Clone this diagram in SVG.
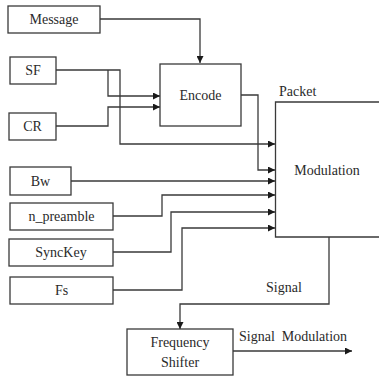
<svg xmlns="http://www.w3.org/2000/svg" width="379" height="377" viewBox="0 0 379 377" font-family="'Liberation Serif', 'Times New Roman', 'DejaVu Serif', serif">
<style>
.box{fill:#fff;stroke:#3a3a3a;stroke-width:1.3}
.ln{fill:none;stroke:#3a3a3a;stroke-width:1.3}
text{font-family:'Liberation Serif','Times New Roman','DejaVu Serif',serif;font-size:14px;fill:#2a2a2a}
.c{text-anchor:middle}
</style>
<defs>
<marker id="ah" viewBox="0 0 10 10" refX="10" refY="5" markerWidth="8" markerHeight="7" markerUnits="userSpaceOnUse" orient="auto">
<path d="M0,0 L10,5 L0,10 z" fill="#1a1a1a"/>
</marker>
</defs>
<rect width="379" height="377" fill="#fff"/>
<g id="connectors">
<path class="ln" d="M100,19 H200 V63" marker-end="url(#ah)"/>
<path class="ln" d="M56,70 H120 V144 H275" marker-end="url(#ah)"/>
<path class="ln" d="M108,70 V96 H160" marker-end="url(#ah)"/>
<path class="ln" d="M56,126 H108 V107 H160" marker-end="url(#ah)"/>
<path class="ln" d="M241,95 H258 V170 H275" marker-end="url(#ah)"/>
<path class="ln" d="M71,181 H275" marker-end="url(#ah)"/>
<path class="ln" d="M113,216 H162 V195 H275" marker-end="url(#ah)"/>
<path class="ln" d="M113,252 H171 V212 H275" marker-end="url(#ah)"/>
<path class="ln" d="M113,290 H182 V228 H275" marker-end="url(#ah)"/>
<path class="ln" d="M329,237 V304 H180 V329" marker-end="url(#ah)"/>
<path class="ln" d="M233,351 H352" marker-end="url(#ah)"/>
<text x="279" y="96">Packet</text>
<text x="266" y="292">Signal</text>
<text x="239" y="341" xml:space="preserve">Signal  Modulation</text>
</g>
<g id="message"><rect class="box" x="8" y="6" width="92" height="27"/><text class="c" x="54" y="24">Message</text></g>
<g id="sf"><rect class="box" x="10" y="57" width="46" height="27"/><text class="c" x="33" y="75">SF</text></g>
<g id="cr"><rect class="box" x="9" y="113" width="47" height="27"/><text class="c" x="32.5" y="131">CR</text></g>
<g id="encode"><rect class="box" x="160" y="64" width="81" height="62"/><text class="c" x="200.5" y="100">Encode</text></g>
<g id="modulation"><path class="box" d="M385,102 H275.5 V237 H385"/><text class="c" x="327" y="175">Modulation</text></g>
<g id="bw"><rect class="box" x="10" y="167" width="61" height="28"/><text class="c" x="40.5" y="186">Bw</text></g>
<g id="n_preamble"><rect class="box" x="10" y="203" width="103" height="27"/><text class="c" x="61.5" y="221">n_preamble</text></g>
<g id="synckey"><rect class="box" x="9" y="239" width="104" height="27"/><text class="c" x="61" y="257">SyncKey</text></g>
<g id="fs"><rect class="box" x="10" y="277" width="103" height="27"/><text class="c" x="61.5" y="295">Fs</text></g>
<g id="freqshifter"><rect class="box" x="127" y="329" width="106" height="46"/><text class="c" x="180" y="347">Frequency</text><text class="c" x="180" y="367">Shifter</text></g>
</svg>
